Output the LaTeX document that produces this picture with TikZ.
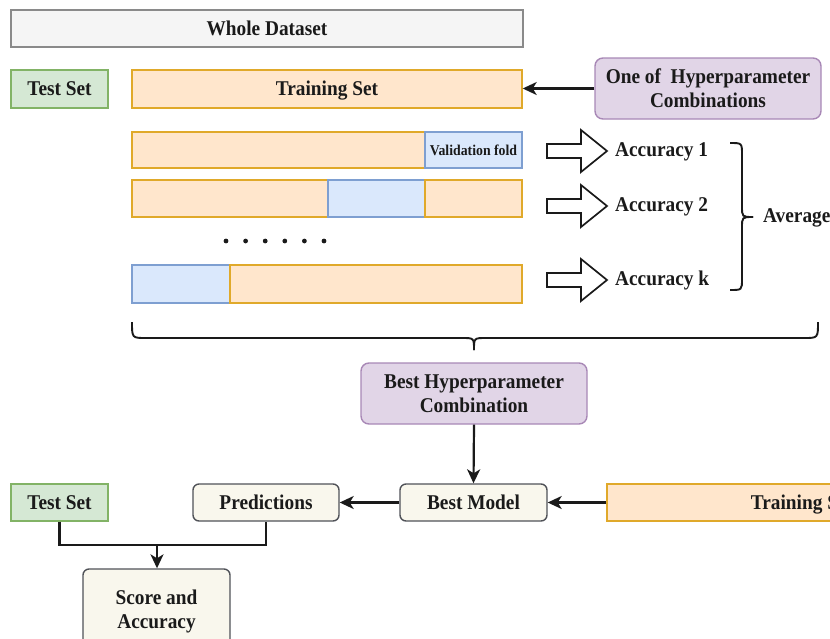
\documentclass[tikz,border=0pt]{standalone}
\usepackage{fontspec}
\setmainfont{Liberation Serif}[FakeStretch=0.92]
\usetikzlibrary{arrows.meta}

\definecolor{wholefill}{HTML}{F5F5F5}
\definecolor{wholeline}{HTML}{8A8A8A}
\definecolor{greenfill}{HTML}{D5E8D4}
\definecolor{greenline}{HTML}{82B366}
\definecolor{orangefill}{HTML}{FFE6CC}
\definecolor{orangeline}{HTML}{E0A92A}
\definecolor{bluefill}{HTML}{DAE8FC}
\definecolor{blueline}{HTML}{7E9FD1}
\definecolor{purplefill}{HTML}{E1D5E7}
\definecolor{purpleline}{HTML}{A888B6}
\definecolor{creamfill}{HTML}{F9F7ED}
\definecolor{creamline}{HTML}{505258}
\definecolor{ink}{HTML}{1A1A1A}

\tikzset{
  txt/.style={font=\fontsize{21}{24}\selectfont\bfseries, text=ink, inner sep=0pt, align=center},
  box/.style={txt, draw, line width=1.4pt, minimum width=#1},
  oneline/.style={text height=14pt, text depth=1pt},
  wholebox/.style={box=#1, oneline, fill=wholefill, draw=wholeline, minimum height=37},
  greenbox/.style={box=#1, oneline, fill=greenfill, draw=greenline, minimum height=37},
  orangebox/.style={box=#1, oneline, fill=orangefill, draw=orangeline, minimum height=37},
  bluebox/.style={box=#1, fill=bluefill, draw=blueline, minimum height=37},
  purplebox/.style={box=#1, fill=purplefill, draw=purpleline, rounded corners=8pt, minimum height=61},
  creambox/.style={box=#1, fill=creamfill, draw=creamline, rounded corners=6pt, minimum height=37},
  flow/.style={line width=2.2pt, draw=ink, -{Stealth[length=14pt, width=13pt, inset=4pt]}},
  link/.style={line width=2.2pt, draw=ink},
  brace/.style={line width=1.9pt, draw=ink},
  blockarrow/.style={line width=1.7pt, draw=ink, fill=white, line join=miter},
}

% hollow block arrow whose shaft starts at x=#1 and is centred on y=#2
\newcommand{\hollowarrow}[2]{%
  \draw[blockarrow] (#1,#2-7) -- ++(34,0) -- ++(0,-14) -- ++(26,21)
    -- ++(-26,21) -- ++(0,-14) -- ++(-34,0) -- cycle;}

\begin{document}
\begin{tikzpicture}[x=1pt, y=-1pt]
\useasboundingbox (0,0) rectangle (830,638);
\clip (0,0) rectangle (830,638);

% whole dataset and its first split
\node[wholebox=512] (whole) at (267,28.5) {Whole Dataset};
\node[greenbox=97, minimum height=38] (test1) at (59.5,89) {Test Set};
\node[orangebox=390, minimum height=38] (train1) at (327,89) {Training Set};
\node[purplebox=226] (hyper) at (708,88.5) {One of\ \ Hyperparameter\\Combinations};
\draw[flow] (hyper.west) -- (train1.east |- hyper.west);

% k-fold rows
\node[orangebox=293, minimum height=36] (f1a) at (278.5,150) {};
\node[bluebox=97, minimum height=36, font=\fontsize{15}{18}\selectfont\bfseries] (f1v) at (473.5,150) {Validation fold};
\node[orangebox=196] (f2a) at (230,198.5) {};
\node[bluebox=97] (f2v) at (376.5,198.5) {};
\node[orangebox=97] (f2b) at (473.5,198.5) {};
\node[bluebox=98, minimum height=38] (fkv) at (181,284) {};
\node[orangebox=292, minimum height=38] (fkb) at (376,284) {};

% ellipsis between the rows
\foreach \i in {0,...,5}
  \fill[ink] (226+19.6*\i,241) circle (2.4);

% hollow arrows to the accuracies
\hollowarrow{547}{151}
\hollowarrow{547}{206}
\hollowarrow{547}{280}
\node[txt, anchor=west] (acc1) at (615,152) {Accuracy 1};
\node[txt, anchor=west] (acc2) at (615,207) {Accuracy 2};
\node[txt, anchor=west] (acck) at (615,280) {Accuracy k};

% brace gathering the accuracies
\draw[brace] (730,143) .. controls (742,143) .. (742,155) -- (742,206)
  .. controls (742,217) .. (753,217);
\draw[brace] (753,217) .. controls (742,217) .. (742,228) -- (742,279)
  .. controls (742,290) .. (730,290);
\node[txt, anchor=west] (avg) at (763,218) {Average};

% brace under the whole search
\draw[brace] (132,322) .. controls (132,338) .. (146,338) -- (462,338)
  .. controls (474,338) .. (474,350);
\draw[brace] (474,350) .. controls (474,338) .. (486,338) -- (804,338)
  .. controls (818,338) .. (818,322);

% final model and evaluation
\node[purplebox=226] (besthyper) at (474,393.5) {Best Hyperparameter\\Combination};
\node[creambox=147, oneline] (bestmodel) at (473.5,502.5) {Best Model};
\node[creambox=146, oneline] (pred) at (266,502.5) {Predictions};
\node[greenbox=97] (test2) at (59.5,502.5) {Test Set};
\node[orangebox=390] (train2) at (802,502.5) {Training Set};
\node[creambox=147, minimum height=81, text depth=0pt] (score) at (156.5,609.5) {Score and\\Accuracy};

\draw[flow] (besthyper.south) -- (bestmodel.north);
\draw[flow] (train2.west) -- (bestmodel.east);
\draw[flow] (bestmodel.west) -- (pred.east);
\coordinate (join) at (157,545);
\draw[link] (test2.south) |- (join) -| (pred.south);
\draw[flow] (join) -- (score.north -| join);
\end{tikzpicture}
\end{document}
